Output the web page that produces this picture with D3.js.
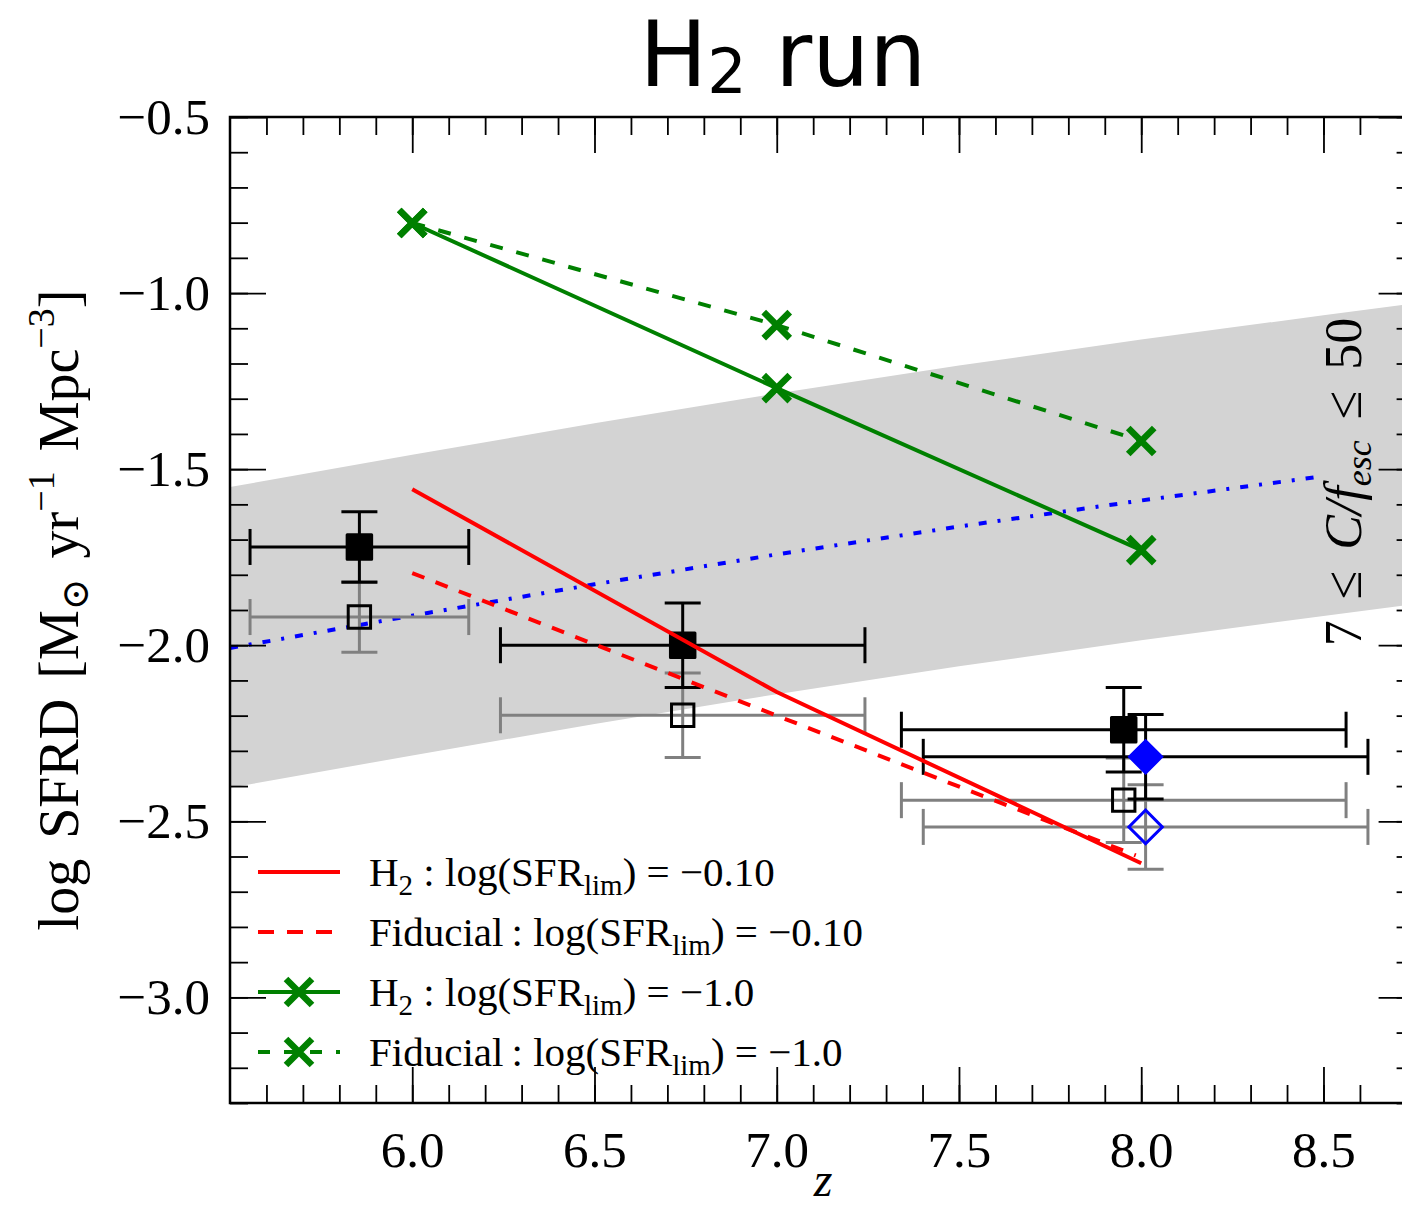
<!DOCTYPE html>
<html>
<head>
<meta charset="utf-8">
<script src="https://cdn.jsdelivr.net/npm/d3@7"></script>
<style>
  body { margin: 0; background: #fff; }
  svg { display: block; }
  .serif { font-family: "Liberation Serif", "DejaVu Serif", serif; }
</style>
</head>
<body>
<svg id="chart" width="1402" height="1207"></svg>
<script>
// ---- data ----
var zBand = [5.5, 6.0, 6.5, 7.0, 7.5, 8.0, 8.5, 8.75];
var bandHi = [-1.551, -1.459, -1.370, -1.285, -1.206, -1.132, -1.063, -1.029];
var bandLo = [-2.405, -2.313, -2.224, -2.139, -2.060, -1.986, -1.917, -1.883];

var zBlue = [5.5, 6.0, 6.5, 7.0, 7.5, 8.0, 8.5];
var blueLine = [-2.008, -1.916, -1.827, -1.742, -1.663, -1.589, -1.520];

var zModel = [6.0, 7.0, 8.0];
var redH2 = [-1.557, -2.133, -2.619];
var zRedFid = [6.0, 7.0, 7.985];
var redFid = [-1.795, -2.200, -2.597];
var greenH2 = [-0.801, -1.270, -1.730];
var greenFid = [-0.801, -1.091, -1.420];

// observations: z, xerr, value, yerr
var obsZ = [5.855, 6.742, 7.952];
var obsXerr = [0.30, 0.50, 0.61];
var obsFilled = [-1.721, -2.000, -2.240];
var obsOpen = [-1.920, -2.199, -2.440];
var obsYerr = [0.10, 0.12, 0.12];

var diaZ = [8.012];
var diaXerr = [0.61];
var diaFilled = [-2.317];
var diaOpen = [-2.516];
var diaYerr = [0.12];

var xMajor = [6.0, 6.5, 7.0, 7.5, 8.0, 8.5];
var xMinor = d3.range(56, 87).map(function(d){ return d / 10; });
var yMajor = [-3.0, -2.5, -2.0, -1.5, -1.0, -0.5];
var yMinor = d3.range(-33, -4).map(function(d){ return d / 10; });

// ---- layout ----
var L = 230, R = 1414.6, T = 117, B = 1103;
var svg = d3.select("#chart");
svg.append("rect").attr("width", 1402).attr("height", 1207).attr("fill", "#fff");

var x = d3.scaleLinear().domain([5.5, 8.75]).range([L, R]);
var y = d3.scaleLinear().domain([-3.3, -0.5]).range([B, T]);

svg.append("clipPath").attr("id", "plotclip")
  .append("rect").attr("x", L).attr("y", T).attr("width", R - L).attr("height", B - T);

var plot = svg.append("g").attr("clip-path", "url(#plotclip)");

// shaded band
var bandData = zBand.map(function(z, i){ return {z: z, hi: bandHi[i], lo: bandLo[i]}; });
plot.append("path")
  .datum(bandData)
  .attr("fill", "#d3d3d3")
  .attr("d", d3.area().x(function(d){ return x(d.z); }).y0(function(d){ return y(d.lo); }).y1(function(d){ return y(d.hi); }));

var line = d3.line().x(function(d){ return x(d[0]); }).y(function(d){ return y(d[1]); });
function pairs(zs, vs) { return zs.map(function(z, i){ return [z, vs[i]]; }); }

// blue dash-dot
plot.append("path").datum(pairs(zBlue, blueLine))
  .attr("fill", "none").attr("stroke", "#0000ff").attr("stroke-width", 4)
  .attr("stroke-dasharray", "8,11,3,11").attr("d", line);

// error bars
var cap = 18;
function errbar(g, cx, cy, xe, ye, color) {
  var eg = g.append("g").attr("stroke", color).attr("stroke-width", 3).attr("fill", "none");
  var x0 = x(cx - xe), x1 = x(cx + xe), y0 = y(cy - ye), y1 = y(cy + ye);
  var px = x(cx), py = y(cy);
  eg.append("line").attr("x1", x0).attr("x2", x1).attr("y1", py).attr("y2", py);
  eg.append("line").attr("x1", px).attr("x2", px).attr("y1", y0).attr("y2", y1);
  eg.append("line").attr("x1", x0).attr("x2", x0).attr("y1", py - cap).attr("y2", py + cap);
  eg.append("line").attr("x1", x1).attr("x2", x1).attr("y1", py - cap).attr("y2", py + cap);
  eg.append("line").attr("x1", px - cap).attr("x2", px + cap).attr("y1", y0).attr("y2", y0);
  eg.append("line").attr("x1", px - cap).attr("x2", px + cap).attr("y1", y1).attr("y2", y1);
}

var eb = plot.append("g");
diaZ.forEach(function(z, i){ errbar(eb, z, diaOpen[i], diaXerr[i], diaYerr[i], "#808080"); });
obsZ.forEach(function(z, i){ errbar(eb, z, obsOpen[i], obsXerr[i], obsYerr[i], "#808080"); });
obsZ.forEach(function(z, i){ errbar(eb, z, obsFilled[i], obsXerr[i], obsYerr[i], "#000"); });
diaZ.forEach(function(z, i){ errbar(eb, z, diaFilled[i], diaXerr[i], diaYerr[i], "#000"); });

var sq = d3.symbol().type(d3.symbolSquare).size(600);
var sqOpen = d3.symbol().type(d3.symbolSquare).size(500);
var dia = d3.symbol().type(d3.symbolSquare).size(560);

plot.selectAll(".osq").data(obsZ).enter().append("path")
  .attr("transform", function(d, i){ return "translate(" + x(d) + "," + y(obsOpen[i]) + ")"; })
  .attr("d", sqOpen).attr("fill", "none").attr("stroke", "#000").attr("stroke-width", 3);
plot.selectAll(".odia").data(diaZ).enter().append("path")
  .attr("transform", function(d, i){ return "translate(" + x(d) + "," + y(diaOpen[i]) + ") rotate(45)"; })
  .attr("d", dia).attr("fill", "none").attr("stroke", "#0000ff").attr("stroke-width", 3);
plot.selectAll(".fsq").data(obsZ).enter().append("path")
  .attr("transform", function(d, i){ return "translate(" + x(d) + "," + y(obsFilled[i]) + ")"; })
  .attr("d", sq).attr("fill", "#000").attr("stroke", "#000").attr("stroke-width", 3).attr("stroke-linejoin", "round");
plot.selectAll(".fdia").data(diaZ).enter().append("path")
  .attr("transform", function(d, i){ return "translate(" + x(d) + "," + y(diaFilled[i]) + ") rotate(45)"; })
  .attr("d", dia).attr("fill", "#0000ff").attr("stroke", "#0000ff").attr("stroke-width", 2);

// model lines
plot.append("path").datum(pairs(zModel, redH2))
  .attr("fill", "none").attr("stroke", "#ff0000").attr("stroke-width", 4).attr("d", line);
plot.append("path").datum(pairs(zRedFid, redFid))
  .attr("fill", "none").attr("stroke", "#ff0000").attr("stroke-width", 4)
  .attr("stroke-dasharray", "13,12").attr("d", line);
plot.append("path").datum(pairs(zModel, greenFid))
  .attr("fill", "none").attr("stroke", "#008000").attr("stroke-width", 4)
  .attr("stroke-dasharray", "13,14").attr("d", line);
plot.append("path").datum(pairs(zModel, greenH2))
  .attr("fill", "none").attr("stroke", "#008000").attr("stroke-width", 4).attr("d", line);

function xMark(h) { return "M" + (-h) + "," + (-h) + "L" + h + "," + h + "M" + (-h) + "," + h + "L" + h + "," + (-h); }
[greenFid, greenH2].forEach(function(vals){
  plot.selectAll(null).data(zModel).enter().append("path")
    .attr("transform", function(d, i){ return "translate(" + x(d) + "," + y(vals[i]) + ")"; })
    .attr("d", xMark(13)).attr("stroke", "#008000").attr("stroke-width", 6.5).attr("fill", "none");
});

// ---- axes (ticks inward) ----
function fmt(d) { return d3.format(".1f")(d).replace("-", "\u2212\u2009"); }
var ax = svg.append("g").attr("class", "serif");
ax.append("g").attr("transform", "translate(0," + B + ")")
  .call(d3.axisBottom(x).tickValues(xMajor).tickSize(-36).tickPadding(28).tickFormat(fmt));
ax.append("g").attr("transform", "translate(0," + B + ")")
  .call(d3.axisBottom(x).tickValues(xMinor).tickSize(-18).tickFormat(""));
ax.append("g").attr("transform", "translate(0," + T + ")")
  .call(d3.axisTop(x).tickValues(xMajor).tickSize(-36).tickFormat(""));
ax.append("g").attr("transform", "translate(0," + T + ")")
  .call(d3.axisTop(x).tickValues(xMinor).tickSize(-18).tickFormat(""));
ax.append("g").attr("transform", "translate(" + L + ",0)")
  .call(d3.axisLeft(y).tickValues(yMajor).tickSize(-36).tickPadding(20).tickFormat(fmt));
ax.append("g").attr("transform", "translate(" + L + ",0)")
  .call(d3.axisLeft(y).tickValues(yMinor).tickSize(-18).tickFormat(""));
ax.append("g").attr("transform", "translate(" + R + ",0)")
  .call(d3.axisRight(y).tickValues(yMajor).tickSize(-36).tickFormat(""));
ax.append("g").attr("transform", "translate(" + R + ",0)")
  .call(d3.axisRight(y).tickValues(yMinor).tickSize(-18).tickFormat(""));
ax.selectAll(".domain").remove();
ax.selectAll(".tick line").attr("stroke", "#000").attr("stroke-width", 1.8);
ax.selectAll(".tick text").attr("font-size", 51).attr("fill", "#000")
  .attr("font-family", "Liberation Serif, serif");

svg.append("rect").attr("x", L).attr("y", T).attr("width", R - L).attr("height", B - T)
  .attr("fill", "none").attr("stroke", "#000").attr("stroke-width", 2.5);

// ---- texts ----
var title = svg.append("text").attr("x", 783).attr("y", 86).attr("text-anchor", "middle")
  .attr("font-family", "DejaVu Sans, sans-serif").attr("font-size", 90).attr("fill", "#000");
title.append("tspan").text("H");
title.append("tspan").attr("font-size", 62).attr("dy", 7).text("2");
title.append("tspan").attr("dy", -7).text(" run");

svg.append("text").attr("class", "serif").attr("x", 823).attr("y", 1196)
  .attr("text-anchor", "middle").attr("font-style", "italic").attr("font-size", 48).text("z");

var yl = svg.append("text").attr("class", "serif")
  .attr("transform", "translate(78,610) rotate(-90)").attr("text-anchor", "middle")
  .attr("font-size", 56).attr("word-spacing", 6);
yl.append("tspan").text("log SFRD [M");
yl.append("tspan").attr("font-size", 38).attr("dy", 10).text("\u2299");
yl.append("tspan").attr("dy", -10).text(" yr");
yl.append("tspan").attr("font-size", 38).attr("dy", -24).text("\u22121");
yl.append("tspan").attr("dy", 24).text(" Mpc");
yl.append("tspan").attr("font-size", 38).attr("dy", -24).text("\u22123");
yl.append("tspan").attr("dy", 24).text("]");

var ann = svg.append("text").attr("class", "serif")
  .attr("transform", "translate(1361,482) rotate(-90)").attr("text-anchor", "middle")
  .attr("font-size", 52).attr("word-spacing", 8);
ann.append("tspan").text("7 \u2264 ");
ann.append("tspan").attr("font-style", "italic").text("C/f");
ann.append("tspan").attr("font-style", "italic").attr("font-size", 36).attr("dy", 10).text("esc");
ann.append("tspan").attr("dy", -10).text(" \u2264 50");

// ---- legend ----
var legendRows = [
  {name: "H", sub: "2", pre: " : log(SFR", val: ") = \u22120.10", color: "#ff0000", dash: null, mark: false},
  {name: "Fiducial", sub: "", pre: "\u2009: log(SFR", val: ") = \u22120.10", color: "#ff0000", dash: "13,12", mark: false},
  {name: "H", sub: "2", pre: " : log(SFR", val: ") = \u22121.0", color: "#008000", dash: null, mark: true},
  {name: "Fiducial", sub: "", pre: "\u2009: log(SFR", val: ") = \u22121.0", color: "#008000", dash: "13,14", mark: true}
];
var lg = svg.append("g");
legendRows.forEach(function(r, i){
  var ly = 872 + i * 60;
  lg.append("line").attr("x1", 258).attr("x2", 340).attr("y1", ly).attr("y2", ly)
    .attr("stroke", r.color).attr("stroke-width", 4)
    .attr("stroke-dasharray", r.dash ? (r.mark ? "12,14" : "16,13") : null);
  if (r.mark) {
    lg.append("path").attr("transform", "translate(299," + ly + ")").attr("d", xMark(13))
      .attr("stroke", r.color).attr("stroke-width", 6.5).attr("fill", "none");
  }
  var t = lg.append("text").attr("class", "serif").attr("x", 369).attr("y", ly + 14)
    .attr("font-size", 41).attr("fill", "#000");
  t.append("tspan").text(r.name);
  if (r.sub) t.append("tspan").attr("font-size", 29).attr("dy", 9).text(r.sub);
  t.append("tspan").attr("dy", r.sub ? -9 : 0).text(r.pre);
  t.append("tspan").attr("font-size", 29).attr("dy", 9).text("lim");
  t.append("tspan").attr("dy", -9).text(r.val);
});
</script>
</body>
</html>
